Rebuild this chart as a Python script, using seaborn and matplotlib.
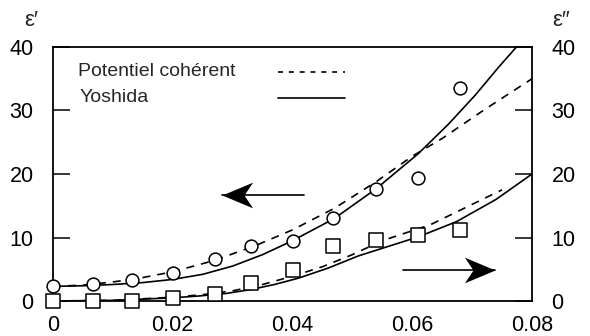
import matplotlib
matplotlib.use("Agg")
import matplotlib.pyplot as plt
from matplotlib.path import Path
import seaborn as sns
import numpy as np

# measured points
x_pts = [0.0, 0.0067, 0.0132, 0.020, 0.027, 0.033, 0.040, 0.0468, 0.054, 0.061, 0.068]
eps1_pts = [2.4, 2.6, 3.3, 4.4, 6.6, 8.6, 9.5, 13.0, 17.7, 19.3, 33.5]
eps2_pts = [0.0, 0.0, 0.0, 0.4, 1.1, 2.8, 4.9, 8.6, 9.6, 10.4, 11.2]

# Yoshida (solid) curves
yosh1_x = [0.0, 0.005, 0.010, 0.015, 0.020, 0.025, 0.030, 0.035, 0.040, 0.047, 0.054, 0.061, 0.066, 0.0705, 0.0745, 0.0774]
yosh1_y = [2.3, 2.4, 2.6, 2.9, 3.4, 4.2, 5.5, 7.3, 9.5, 13.0, 17.7, 23.2, 27.8, 32.4, 36.9, 40.0]
yosh2_x = [0.0, 0.010, 0.020, 0.0245, 0.029, 0.033, 0.037, 0.041, 0.046, 0.051, 0.056, 0.061, 0.0674, 0.074, 0.080]
yosh2_y = [0.0, 0.1, 0.5, 0.8, 1.2, 1.8, 2.6, 3.6, 5.2, 7.1, 8.6, 10.1, 12.5, 16.0, 20.0]

# coherent potential (dashed) curves
cp1_x = [0.0, 0.005, 0.010, 0.0145, 0.020, 0.027, 0.034, 0.040, 0.047, 0.054, 0.060, 0.065, 0.072, 0.080]
cp1_y = [2.3, 2.5, 3.0, 3.6, 4.6, 6.4, 8.8, 11.2, 14.6, 18.8, 22.8, 25.6, 30.1, 35.0]
cp2_x = [0.0, 0.010, 0.020, 0.025, 0.030, 0.035, 0.040, 0.045, 0.050, 0.055, 0.063, 0.0741, 0.0750]
cp2_y = [0.0, 0.1, 0.6, 1.0, 1.6, 2.6, 3.9, 5.4, 7.3, 9.5, 12.0, 17.1, 17.5]

# axis-pointer arrows (tail x, tip x, y)
arrow_left = (0.042, 0.0282, 16.7)
arrow_right = (0.0585, 0.0738, 4.9)

x_ticks = [0, 0.02, 0.04, 0.06, 0.08]
x_labels = ["0", "0.02", "0.04", "0.06", "0.08"]
y_ticks = [0, 10, 20, 30, 40]
y_labels = ["0", "10", "20", "30", "40"]

sns.set_style("white")
plt.rcParams['font.family'] = ['Liberation Sans', 'DejaVu Sans']

fig = plt.figure(figsize=(5.9, 3.36), dpi=100)
ax = fig.add_axes([53/590, 35/336, 479/590, 254/336])

lw = 1.2
dash = (0, (4.8, 4.2))
sns.lineplot(x=yosh1_x, y=yosh1_y, ax=ax, color='black', lw=lw, sort=False, estimator=None)
sns.lineplot(x=yosh2_x, y=yosh2_y, ax=ax, color='black', lw=lw, sort=False, estimator=None)
sns.lineplot(x=cp1_x, y=cp1_y, ax=ax, color='black', lw=lw, sort=False, estimator=None, linestyle=dash)
sns.lineplot(x=cp2_x, y=cp2_y, ax=ax, color='black', lw=lw, sort=False, estimator=None, linestyle=dash)

sns.scatterplot(x=x_pts, y=eps1_pts, ax=ax, marker='o', s=85, facecolor='white',
                edgecolor='black', linewidth=1.1, zorder=5, clip_on=False)
sns.scatterplot(x=x_pts, y=eps2_pts, ax=ax, marker='s', s=95, facecolor='white',
                edgecolor='black', linewidth=1.1, zorder=5, clip_on=False)

ax.set_xlim(0, 0.08)
ax.set_ylim(0, 40)
ax.set_xticks(x_ticks)
ax.set_xticklabels(x_labels)
ax.set_yticks(y_ticks)
ax.set_yticklabels(y_labels)
for s in ax.spines.values():
    s.set_visible(True)
    s.set_color('black')
    s.set_linewidth(1.3)
ax.tick_params(axis='both', direction='in', length=12, width=1.1, labelsize=15.5,
               color='black', labelcolor='black')
ax.tick_params(axis='y', right=True, labelright=True, left=True, pad=14)
ax.tick_params(axis='x', pad=10)
ax.set_xlabel('')
ax.set_ylabel('')

# arrows with swept (stealth) heads
def stealth(direction):
    s = 1 if direction == 'left' else -1
    verts = [(0, 0), (s * 1.0, 0.42), (s * 0.72, 0), (s * 1.0, -0.42), (0, 0)]
    codes = [Path.MOVETO, Path.LINETO, Path.LINETO, Path.LINETO, Path.CLOSEPOLY]
    return Path(verts, codes)

for (xt, xh, yy), d in [(arrow_left, 'left'), (arrow_right, 'right')]:
    ax.plot([xt, xh], [yy, yy], color='black', lw=1.2)
    ax.plot([xh], [yy], marker=stealth(d), markersize=44, color='black',
            markeredgewidth=0, linestyle='none')

# legend
ax.text(0.052, 0.902, 'Potentiel cohérent', transform=ax.transAxes, fontsize=14,
        ha='left', va='center')
ax.text(0.055, 0.80, 'Yoshida', transform=ax.transAxes, fontsize=14,
        ha='left', va='center')
ax.plot([0.47, 0.61], [0.902, 0.902], transform=ax.transAxes, color='black', lw=1.2,
        linestyle=(0, (3.0, 3.5)))
ax.plot([0.47, 0.61], [0.80, 0.80], transform=ax.transAxes, color='black', lw=1.2)

fig.text(31/590, 1 - 20/336, 'ε′', fontsize=16, ha='center', va='center')
fig.text(561/590, 1 - 20/336, 'ε″', fontsize=16, ha='center', va='center')

fig.savefig('out.png', dpi=100)
